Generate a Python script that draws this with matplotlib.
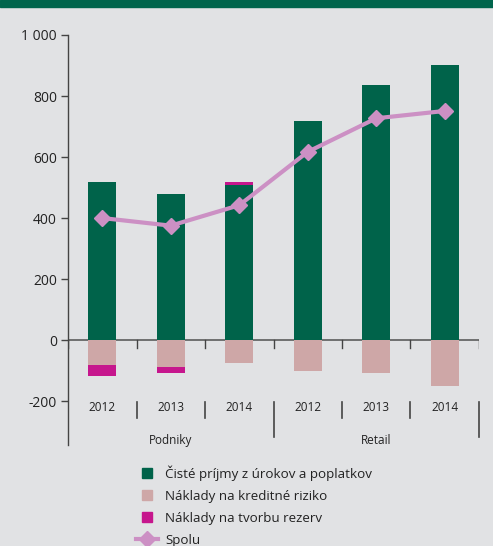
import matplotlib
matplotlib.use("Agg")
import matplotlib.pyplot as plt
from matplotlib.patches import Rectangle
from matplotlib.lines import Line2D
import numpy as np

plt.rcParams['font.family'] = ['Open Sans', 'DejaVu Sans']

# Data
years = ["2012", "2013", "2014", "2012", "2013", "2014"]
groups = ["Podniky", "Retail"]
income = [518, 478, 508, 718, 836, 902]
credit_costs = [-82, -88, -74, -100, -107, -150]
reserves = [-36, -20, 10, 0, 0, 0]
total = [400, 375, 442, 617, 727, 751]

series_labels = ["Čisté príjmy z úrokov a poplatkov",
                 "Náklady na kreditné riziko",
                 "Náklady na tvorbu rezerv",
                 "Spolu"]

C_GREEN = "#00634a"
C_PINK = "#cea7a7"
C_MAG = "#c6168d"
C_LINE = "#cc90c4"
BG = "#e1e2e4"

W, H = 493, 546
fig = plt.figure(figsize=(W / 100, H / 100), dpi=100, facecolor=BG)
fig.patches.append(Rectangle((0, 1 - 7 / H), 1, 7 / H, transform=fig.transFigure,
                             color="#00654c", zorder=0))

ax = fig.add_axes([68 / W, 1 - 445 / H, (479 - 68) / W, (445 - 35) / H])
ax.set_facecolor(BG)

x = np.arange(len(income))
bw = 0.41
inc = np.array(income)
cr = np.array(credit_costs)
rs = np.array(reserves)

ax.bar(x, inc, bw, color=C_GREEN, zorder=2)
ax.bar(x, cr, bw, color=C_PINK, zorder=2)
# reserves stack below credit costs when negative, above income when positive
res_bottom = np.where(rs < 0, cr, inc)
ax.bar(x, rs, bw, bottom=res_bottom, color=C_MAG, zorder=2)
ax.plot(x, total, color=C_LINE, lw=3, marker="D", markersize=8.5, zorder=3)

ax.set_xlim(-0.5, len(income) - 0.5)
ax.set_ylim(-344, 1000)
ax.set_yticks([-200, 0, 200, 400, 600, 800, 1000])
ax.yaxis.set_major_formatter(matplotlib.ticker.FuncFormatter(
    lambda v, p: f"{int(v):,}".replace(",", " ")))
ax.tick_params(axis="y", direction="out", length=5, width=1, color="#444444",
               labelsize=10, labelcolor="#222222", pad=3)
ax.set_xticks([])
for s in ["top", "right", "bottom"]:
    ax.spines[s].set_visible(False)
ax.spines["left"].set_color("#444444")
ax.spines["left"].set_linewidth(1)

# zero line with small category ticks
ax.axhline(0, color="#666666", lw=1.3, zorder=1)
for b in np.arange(-0.5, len(income), 1.0):
    ax.plot([b, b], [0, -26], color="#444444", lw=1, zorder=1)

# category axis labels
for i, y in enumerate(years):
    ax.text(i, -220, y, ha="center", va="center", fontsize=8.5, color="#222222")
for b in [0.5, 1.5, 3.5, 4.5]:
    ax.plot([b, b], [-203, -256], color="#444444", lw=1.2, clip_on=False)
for b in [2.5, 5.5]:
    ax.plot([b, b], [-203, -318], color="#444444", lw=1.2, clip_on=False)
for g, c in zip(groups, [1, 4]):
    ax.text(c, -328, g, ha="center", va="center", fontsize=8.5, color="#222222")

handles = [Line2D([], [], ls="none", marker="s", markersize=7.5, color=C_GREEN),
           Line2D([], [], ls="none", marker="s", markersize=7.5, color=C_PINK),
           Line2D([], [], ls="none", marker="s", markersize=7.5, color=C_MAG),
           Line2D([], [], color=C_LINE, lw=3, marker="D", markersize=8)]
fig.legend(handles, series_labels, loc="upper left",
           bbox_to_anchor=(133 / W, 1 - 463 / H), frameon=False, fontsize=9.6,
           handlelength=1.65, handletextpad=0.55, labelspacing=0.66,
           borderaxespad=0, borderpad=0.2, labelcolor="#222222")

fig.savefig("out.png", dpi=100, facecolor=BG)
